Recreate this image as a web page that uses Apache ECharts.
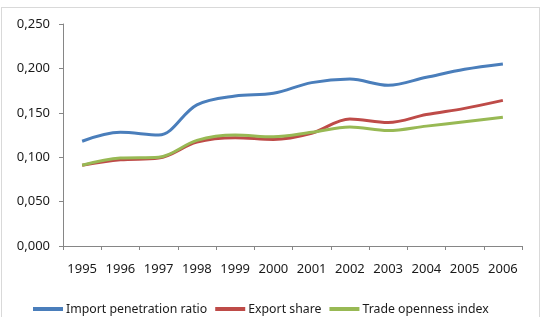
<!DOCTYPE html>
<html>
<head>
<meta charset="utf-8">
<script src="https://cdn.jsdelivr.net/npm/echarts@6/dist/echarts.min.js"></script>
<style>
  html, body { margin: 0; padding: 0; background: #fff; }
  #frame {
    position: absolute; left: 1px; top: 7px; width: 539px; height: 320px;
    border: 1px solid #d9d9d9; box-sizing: border-box;
  }
  #chart { position: absolute; left: 0; top: 0; width: 544px; height: 317px; }
</style>
</head>
<body>
<div id="frame"></div>
<div id="chart"></div>
<script>
const years = ["1995", "1996", "1997", "1998", "1999", "2000", "2001", "2002", "2003", "2004", "2005", "2006"];
const importPenetration = [0.118, 0.128, 0.125, 0.159, 0.169, 0.172, 0.184, 0.188, 0.181, 0.190, 0.199, 0.205];
const exportShare = [0.091, 0.097, 0.099, 0.117, 0.122, 0.120, 0.127, 0.143, 0.139, 0.148, 0.155, 0.164];
const tradeOpenness = [0.091, 0.099, 0.100, 0.119, 0.125, 0.123, 0.128, 0.134, 0.130, 0.135, 0.140, 0.145];

const font = "Noto Sans";
const textColor = "#1a1a1a";

const chart = echarts.init(document.getElementById("chart"), null, { renderer: "canvas" });

const line = (name, data, color) => ({
  name,
  type: "line",
  data,
  smooth: 0.35,
  symbol: "none",
  lineStyle: { color, width: 3 },
  itemStyle: { color },
});

chart.setOption({
  animation: false,
  grid: { left: 63, right: 22, top: 24, bottom: 71 },
  legend: {
    bottom: -3,
    left: 28,
    itemWidth: 30,
    itemHeight: 4,
    itemGap: 8,
    icon: "rect",
    textStyle: { fontFamily: font, fontSize: 12.3, color: textColor, padding: [0, 0, 0, -2] },
    data: ["Import penetration ratio", "Export share", "Trade openness index"],
  },
  xAxis: {
    type: "category",
    data: years,
    boundaryGap: true,
    axisLine: { lineStyle: { color: "#868686", width: 1 } },
    axisTick: { show: true, length: 4, interval: 0, lineStyle: { color: "#868686" } },
    axisLabel: { fontFamily: font, fontSize: 13, color: textColor, margin: 17, interval: 0 },
  },
  yAxis: {
    type: "value",
    min: 0,
    max: 0.25,
    interval: 0.05,
    splitLine: { show: false },
    axisLine: { show: true, lineStyle: { color: "#868686", width: 1 } },
    axisTick: { show: true, length: 4, lineStyle: { color: "#868686" } },
    axisLabel: {
      fontFamily: font, fontSize: 13, color: textColor, margin: 13,
      formatter: (v) => v.toFixed(3).replace(".", ","),
    },
  },
  series: [
    line("Import penetration ratio", importPenetration, "#4a7ebb"),
    line("Export share", exportShare, "#be4b48"),
    line("Trade openness index", tradeOpenness, "#98b954"),
  ],
});
</script>
</body>
</html>
